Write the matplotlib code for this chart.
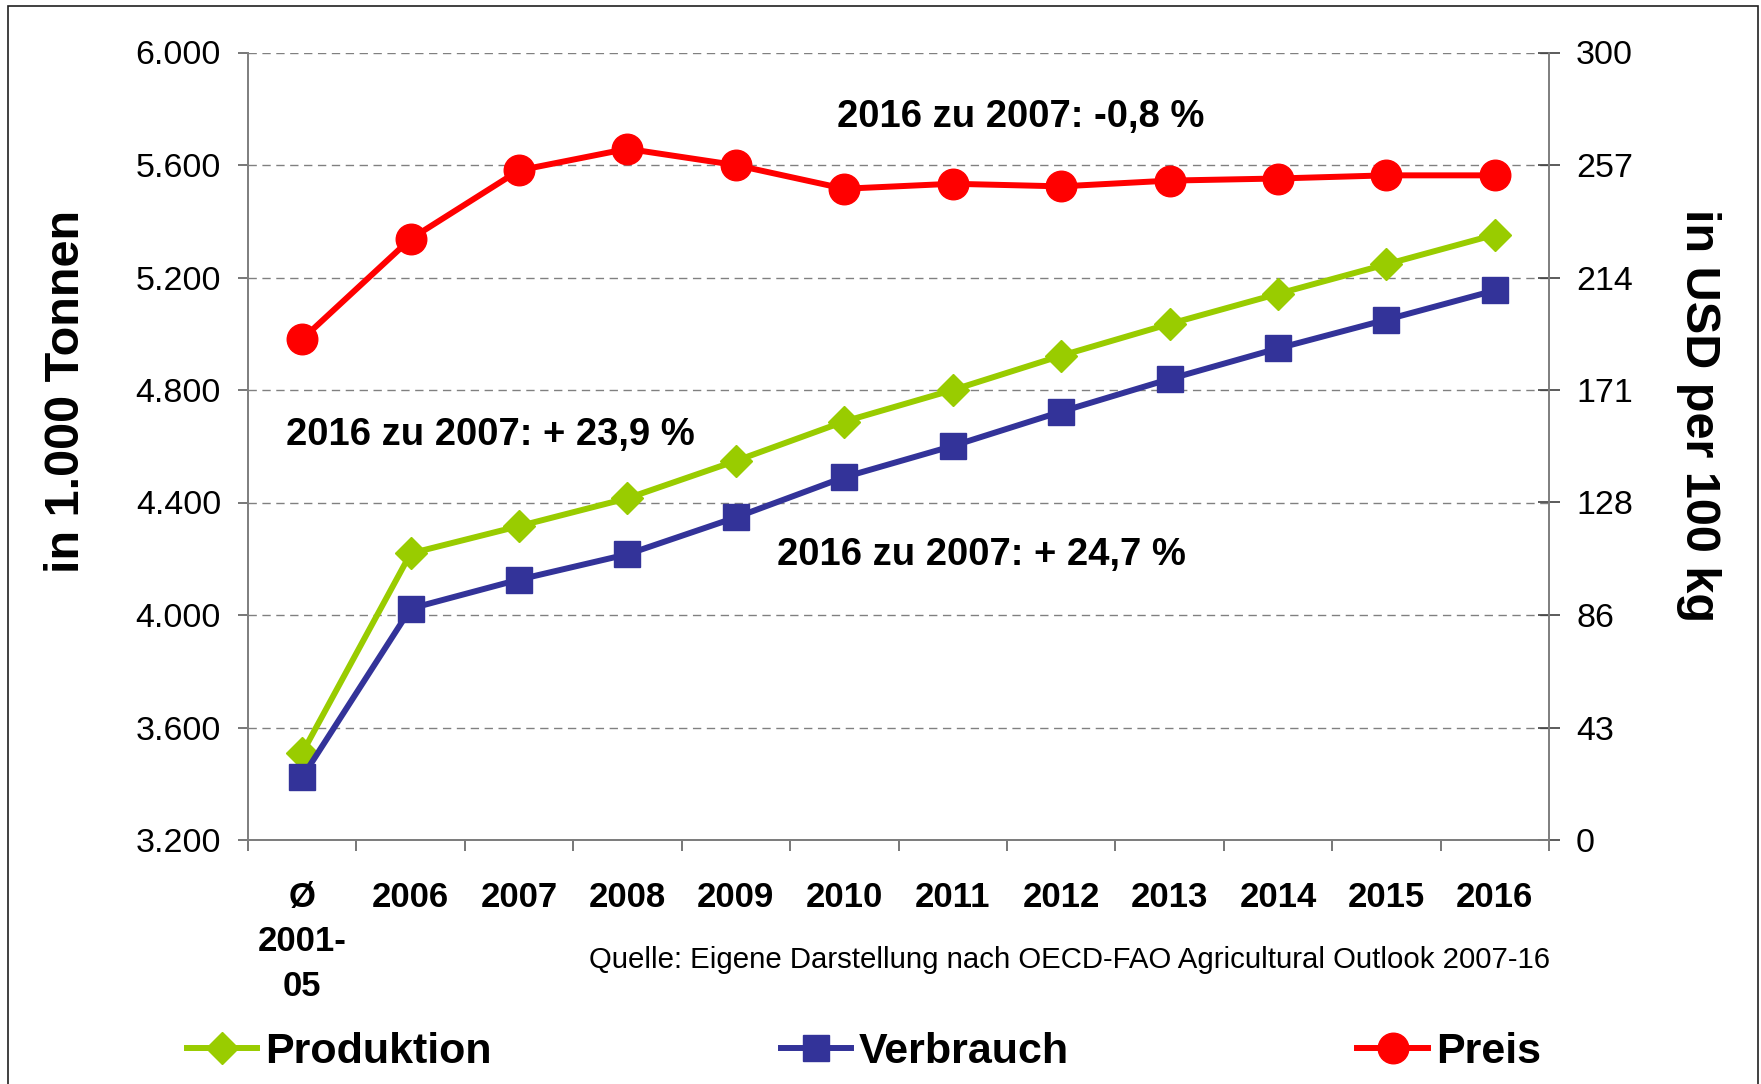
import numpy as np
import matplotlib
matplotlib.use("Agg")
import matplotlib.pyplot as plt
from matplotlib.patches import Rectangle

plt.rcParams['font.family'] = ['Liberation Sans', 'DejaVu Sans']

# Daten
jahre = ['Ø\n2001-\n05', '2006', '2007', '2008', '2009', '2010',
         '2011', '2012', '2013', '2014', '2015', '2016']
produktion = [3509, 4219, 4316, 4415, 4548, 4688, 4800, 4922, 5035, 5142, 5247, 5352]
verbrauch = [3423, 4023, 4126, 4216, 4347, 4490, 4601, 4723, 4839, 4948, 5050, 5154]
preis = [190.8, 229.0, 255.1, 263.3, 257.1, 248.1, 250.0, 249.0, 251.2, 252.0, 253.2, 253.2]

ticks_links = [3200, 3600, 4000, 4400, 4800, 5200, 5600, 6000]
ticks_links_txt = ['3.200', '3.600', '4.000', '4.400', '4.800', '5.200', '5.600', '6.000']
ticks_rechts_txt = ['0', '43', '86', '128', '171', '214', '257', '300']

anm_preis = '2016 zu 2007: -0,8 %'
anm_prod = '2016 zu 2007: + 23,9 %'
anm_verb = '2016 zu 2007: + 24,7 %'
quelle = 'Quelle: Eigene Darstellung nach OECD-FAO Agricultural Outlook 2007-16'

GRUEN = '#99CC00'
BLAU = '#333399'
ROT = '#FF0000'
GRAU = '#808080'

W, H = 1761, 1084


def px(x, y):
    # Pixel (von oben links) -> Figure-Koordinaten
    return x / W, 1 - y / H


fig = plt.figure(figsize=(W / 100, H / 100), dpi=100)
ax = fig.add_axes([248 / W, 1 - 840 / H, (1549 - 248) / W, (840 - 52.5) / H])
ax2 = ax.twinx()

x = np.arange(len(jahre))

l1, = ax.plot(x, produktion, color=GRUEN, lw=4.3, marker='D', ms=16,
              mfc=GRUEN, mec=GRUEN, label='Produktion', zorder=3)
l2, = ax.plot(x, verbrauch, color=BLAU, lw=4.3, marker='s', ms=19,
              mfc=BLAU, mec=BLAU, label='Verbrauch', zorder=3)
l3, = ax2.plot(x, preis, color=ROT, lw=4.3, marker='o', ms=22,
               mfc=ROT, mec=ROT, label='Preis', zorder=3)

# Achsen
ax.set_xlim(-0.5, len(jahre) - 0.5)
ax.set_ylim(3200, 6000)
ax2.set_ylim(0, 300)

ax.set_yticks(ticks_links, labels=ticks_links_txt)
ax2.set_yticks(np.arange(8) * 300 / 7, labels=ticks_rechts_txt)

ax.set_xticks(np.arange(-0.5, len(jahre), 1), labels=[])
ax.set_xticks(x, labels=jahre, minor=True)
ax.tick_params(axis='x', which='major', direction='out', length=8, width=1.2, color='#606060')
ax.tick_params(axis='x', which='minor', length=0, pad=29.5, labelsize=25)
for lbl in ax.get_xticklabels(minor=True):
    lbl.set_fontweight('bold')
    lbl.set_linespacing(1.44)

ax.tick_params(axis='y', direction='out', length=7, width=1.2, color='#606060',
               labelsize=24.5, pad=12.4)
ax2.tick_params(axis='y', direction='inout', length=16, width=1.2, color='#404040',
                labelsize=24.5, pad=11.5)

# Gitterlinien
ax.yaxis.grid(True, color=GRAU, linestyle=(0, (6, 4)), lw=1.0)
ax.set_axisbelow(True)

for a in (ax, ax2):
    a.spines['top'].set_visible(False)
    for s in ('left', 'right', 'bottom'):
        a.spines[s].set_color(GRAU)
        a.spines[s].set_linewidth(1.3)
ax.spines['bottom'].set_color('#606060')

# Achsentitel
fig.text(*px(67, 391), 'in 1.000 Tonnen', rotation=90, ha='center', va='center',
         fontsize=35, fontweight='bold')
fig.text(*px(1698, 416), 'in USD per 100 kg', rotation=270, ha='center', va='center',
         fontsize=35, fontweight='bold')

# Anmerkungen
fig.text(*px(1021, 127), anm_preis, ha='center', va='baseline', fontsize=27.5, fontweight='bold')
fig.text(*px(490, 445), anm_prod, ha='center', va='baseline', fontsize=27.5, fontweight='bold')
fig.text(*px(981, 565), anm_verb, ha='center', va='baseline', fontsize=27.5, fontweight='bold')

fig.text(*px(1550, 968), quelle, ha='right', va='baseline', fontsize=21.2)

# Legende
fig.legend(handles=[l1, l2, l3], loc='center', bbox_to_anchor=px(864, 1052), ncol=3,
           frameon=False, prop=dict(weight='bold', size=31), handlelength=1.63,
           handletextpad=0.19, columnspacing=6.7, borderpad=0)

# Rahmen
fig.add_artist(Rectangle(px(8, 1100), (1758 - 8) / W, (1100 - 6) / H,
                         transform=fig.transFigure, fill=False, ec='#202020', lw=1.2))

fig.savefig('out.png', dpi=100)
